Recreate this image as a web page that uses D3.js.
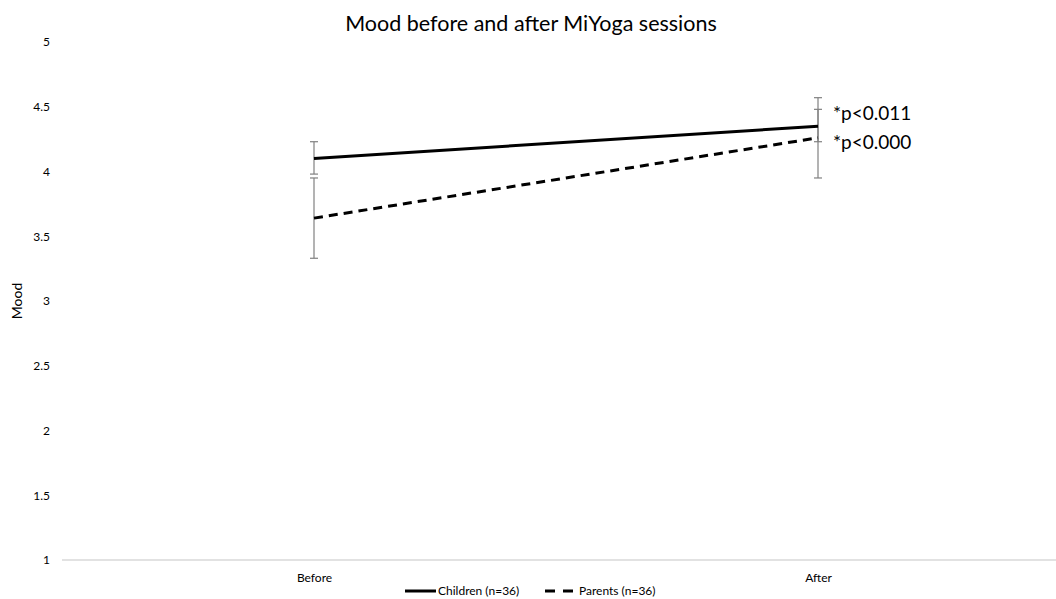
<!DOCTYPE html>
<html>
<head>
<meta charset="utf-8">
<script src="https://cdn.jsdelivr.net/npm/d3@7"></script>
<style>
  html, body { margin: 0; padding: 0; background: #fff; }
  svg text { font-family: Lato, "Open Sans", sans-serif; fill: #000; }
</style>
</head>
<body>
<svg id="chart" width="1056" height="599"></svg>
<script>
// Mood ratings before and after MiYoga sessions
const categories = ["Before", "After"];
const childrenMean = [4.10, 4.35];
const childrenLow  = [3.98, 4.23];
const childrenHigh = [4.23, 4.57];
const parentsMean  = [3.64, 4.26];
const parentsLow   = [3.33, 3.95];
const parentsHigh  = [3.95, 4.48];
const yTicks = [1, 1.5, 2, 2.5, 3, 3.5, 4, 4.5, 5];
const seriesNames = ["Children (n=36)", "Parents (n=36)"];
const pLabels = ["*p<0.011", "*p<0.000"];

const series = [
  { name: seriesNames[0], mean: childrenMean, low: childrenLow, high: childrenHigh, dash: null },
  { name: seriesNames[1], mean: parentsMean, low: parentsLow, high: parentsHigh, dash: "9,6" }
];

const svg = d3.select("#chart");
const W = 1056, H = 599;

const x = d3.scalePoint().domain(categories).range([314, 818]);
const y = d3.scaleLinear().domain([1, 5]).range([560, 42]);

// title
svg.append("text")
  .attr("x", 531).attr("y", 31)
  .attr("text-anchor", "middle")
  .style("font-size", "21.5px")
  .text("Mood before and after MiYoga sessions");

// y axis labels (no axis line)
const yAxis = d3.axisLeft(y).tickValues(yTicks).tickSize(0).tickPadding(0)
  .tickFormat(d => String(d));
const gy = svg.append("g").attr("transform", "translate(50,0)").call(yAxis);
gy.select(".domain").remove();
gy.selectAll("text").style("font-size", "12px").style("font-family", "Lato, sans-serif").attr("fill", "#000");

// y axis title
svg.append("text")
  .attr("transform", "translate(22,301) rotate(-90)")
  .attr("text-anchor", "middle")
  .style("font-size", "14px")
  .text("Mood");

// baseline
svg.append("line")
  .attr("x1", 62).attr("x2", W)
  .attr("y1", y(1)).attr("y2", y(1))
  .attr("stroke", "#d9d9d9").attr("stroke-width", 1.5);

// category labels
const gx = svg.append("g").attr("transform", `translate(0,${y(1)})`)
  .call(d3.axisBottom(x).tickSize(0).tickPadding(13));
gx.select(".domain").remove();
gx.selectAll("text").style("font-size", "12px").style("font-family", "Lato, sans-serif").attr("fill", "#000");

// error bars
const capW = 4;
series.forEach(s => {
  const g = svg.append("g");
  categories.forEach((c, i) => {
    const cx = x(c);
    g.append("line").attr("x1", cx).attr("x2", cx)
      .attr("y1", y(s.low[i])).attr("y2", y(s.high[i]))
      .attr("stroke", "#808080").attr("stroke-width", 1.2);
    [s.low[i], s.high[i]].forEach(v => {
      g.append("line").attr("x1", cx - capW).attr("x2", cx + capW)
        .attr("y1", y(v)).attr("y2", y(v))
        .attr("stroke", "#808080").attr("stroke-width", 1.2);
    });
  });
});

// series lines
const line = d3.line().x((d, i) => x(categories[i])).y(d => y(d));
series.forEach(s => {
  svg.append("path")
    .datum(s.mean)
    .attr("d", line)
    .attr("fill", "none")
    .attr("stroke", "#000")
    .attr("stroke-width", 3)
    .attr("stroke-dasharray", s.dash);
});

// significance labels
const last = categories.length - 1;
svg.append("text").attr("x", 833).attr("y", y(childrenMean[last]) - 6)
  .style("font-size", "19px").text(pLabels[0]);
svg.append("text").attr("x", 833).attr("y", y(parentsMean[last]) + 11)
  .style("font-size", "19px").text(pLabels[1]);

// legend
const leg = svg.append("g").attr("transform", "translate(0,591)");
const items = [
  { s: series[0], x0: 405, x1: 436 },
  { s: series[1], x0: 545, x1: 577 }
];
items.forEach(it => {
  leg.append("line").attr("x1", it.x0).attr("x2", it.x1).attr("y1", 0).attr("y2", 0)
    .attr("stroke", "#000").attr("stroke-width", 3)
    .attr("stroke-dasharray", it.s.dash ? "10,8" : null);
  leg.append("text").attr("x", it.x1 + 2).attr("y", 4)
    .style("font-size", "12px").text(it.s.name);
});
</script>
</body>
</html>
